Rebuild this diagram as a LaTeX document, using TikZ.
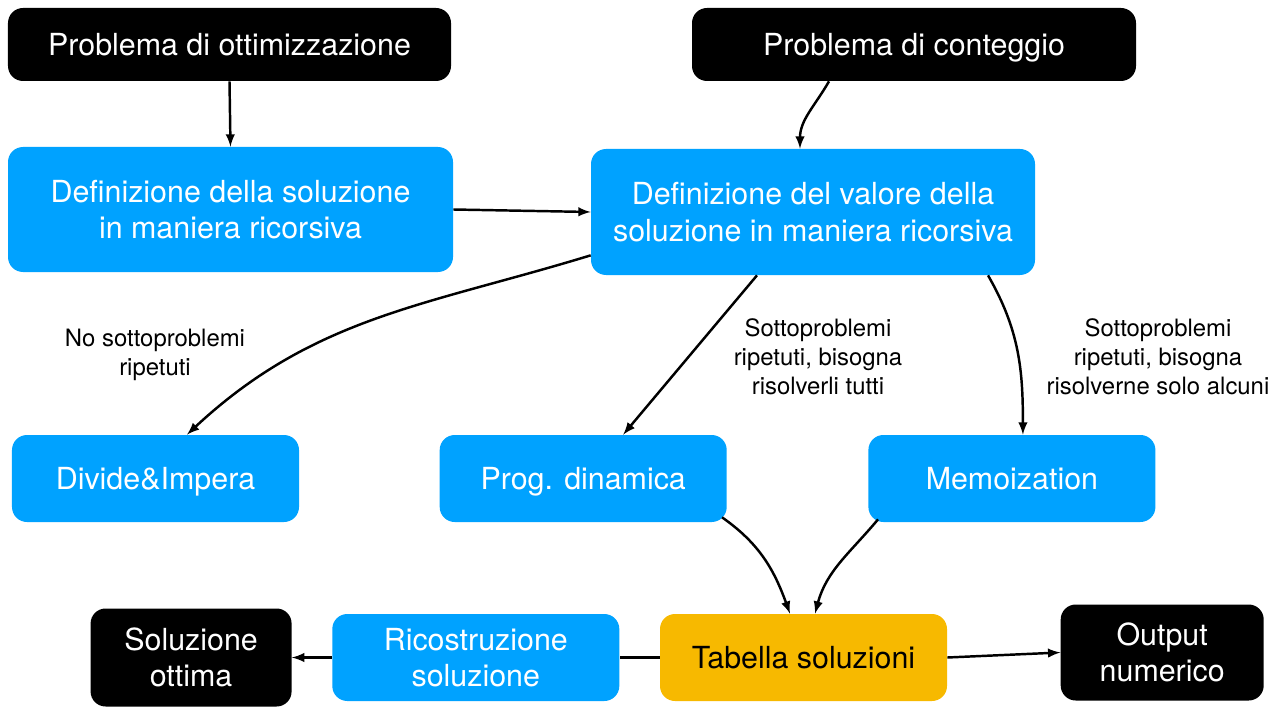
\documentclass[tikz,border=0pt]{standalone}
\usepackage{fontspec}
\setmainfont{TeX Gyre Heros}
\usetikzlibrary{arrows,positioning}
\definecolor{kblue}{HTML}{00A2FF}
\definecolor{kyellow}{HTML}{F7B900}
\tikzset{
  box/.style={rounded corners=0.3cm,align=center,text=white,inner sep=0pt,font=\fontsize{17.3}{20.8}\selectfont},
  oneline/.style={text height=12.5pt,text depth=0.5pt},
  blackbox/.style={box,fill=black},
  bluebox/.style={box,fill=kblue},
  yellowbox/.style={box,fill=kyellow,text=black},
  lbl/.style={align=center,font=\fontsize{13.6}{16.5}\selectfont},
  conn/.style={line width=1.4pt},
  link/.style={conn,->,>=latex}
}

\begin{document}
\begin{tikzpicture}
\useasboundingbox (0,0) rectangle (25.46,-14.18);
% Problems
\node[blackbox,oneline,minimum width=8.86cm,minimum height=1.46cm] (ottim) at (4.59,-0.89) {Problema di ottimizzazione};
\node[blackbox,oneline,minimum width=8.88cm,minimum height=1.46cm] (cont) at (18.28,-0.89) {Problema di conteggio};
% Recursive definitions
\node[bluebox,minimum width=8.9cm,minimum height=2.5cm] (defsol) at (4.61,-4.19) {Definizione della soluzione\\in maniera ricorsiva};
\node[bluebox,minimum width=8.88cm,minimum height=2.52cm] (defval) at (16.26,-4.24) {Definizione del valore della\\soluzione in maniera ricorsiva};
% Techniques
\node[bluebox,oneline,minimum width=5.74cm,minimum height=1.74cm] (divide) at (3.11,-9.57) {Divide\&Impera};
\node[bluebox,oneline,minimum width=5.74cm,minimum height=1.74cm,right=2.8 of divide] (prog) {Prog. dinamica};
\node[bluebox,oneline,minimum width=5.74cm,minimum height=1.74cm,right=2.82 of prog] (memo) {Memoization};
% Labels
\node[lbl] (nosotto) at (3.1,-7.1) {No sottoproblemi\\ripetuti};
\node[lbl] (tutti) at (16.36,-7.14) {Sottoproblemi\\ripetuti, bisogna\\risolverli tutti};
\node[lbl] (alcuni) at (23.16,-7.14) {Sottoproblemi\\ripetuti, bisogna\\risolverne solo alcuni};
% Bottom row
\node[yellowbox,oneline,minimum width=5.74cm,minimum height=1.74cm] (tab) at (16.07,-13.15) {Tabella soluzioni};
\node[bluebox,minimum width=5.74cm,minimum height=1.74cm,left=0.8 of tab] (ricost) {Ricostruzione\\soluzione};
\node[blackbox,minimum width=4.02cm,minimum height=1.96cm,left=0.8 of ricost] (ottima) {Soluzione\\ottima};
\node[blackbox,minimum width=4.06cm,minimum height=1.92cm,right=2.26 of tab,yshift=0.1cm] (output) {Output\\numerico};

% Arrows
\draw[link] (ottim.south) -- (defsol.north);
\draw[link] ([xshift=-1.7cm]cont.south) to[out=-120,in=90] ([xshift=-0.26cm]defval.north);
\draw[link] (defsol.east) -- (defval.west);
\draw[link] ([yshift=0.4cm]defval.south west) to[out=197,in=43] ([xshift=0.63cm]divide.north);
\draw[link] ([xshift=-1.12cm]defval.south) -- ([xshift=0.8cm]prog.north);
\draw[link] ([xshift=3.5cm]defval.south) to[out=-60,in=90] ([xshift=0.22cm]memo.north);
\draw[link] ([shift={(-0.1,0.1)}]prog.south east) to[out=-35,in=110] ([xshift=-0.27cm]tab.north);
\draw[link] ([shift={(0.2,0.06)}]memo.south west) to[out=-130,in=75] ([xshift=0.23cm]tab.north);
\draw[conn] (tab.west) -- (ricost.east);
\draw[link] (ricost.west) -- (ottima.east);
\draw[link] (tab.east) -- (output.west);
\end{tikzpicture}
\end{document}
